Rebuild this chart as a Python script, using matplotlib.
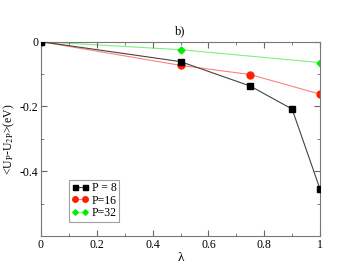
import matplotlib
matplotlib.use("Agg")
import matplotlib.pyplot as plt
from matplotlib.ticker import MultipleLocator

plt.rcParams['font.family'] = ['Liberation Serif', 'DejaVu Serif']
plt.rcParams['mathtext.fontset'] = 'stix'

lam8 = [0.0, 0.5, 0.75, 0.9, 1.0]
u8 = [0.0, -0.0615, -0.137, -0.208, -0.455]
lam16 = [0.0, 0.5, 0.75, 1.0]
u16 = [0.0, -0.073, -0.1015, -0.162]
lam32 = [0.0, 0.5, 1.0]
u32 = [0.0, -0.0246, -0.0646]

fig = plt.figure(figsize=(3.6, 2.78), dpi=100)
ax = fig.add_axes([41/360, 1-236/278, (320-41)/360, (236-41.7)/278])

ax.plot(lam8, u8, '-s', color='#444444', mfc='black', mec='black', lw=0.8, ms=4.5,
        label='P = 8', zorder=3)
ax.plot(lam16, u16, '-o', color='#ff8080', mfc='#ff2000', mec='#ff2000', lw=0.8, ms=5,
        label='P=16', zorder=2)
ax.plot(lam32, u32, '-D', color='#80ee80', mfc='#00ee00', mec='#00ee00', lw=0.8, ms=3.5,
        label='P=32', zorder=1)

ax.set_xlim(0, 1)
ax.set_ylim(-0.6, 0)
ax.xaxis.set_minor_locator(MultipleLocator(0.1))
ax.yaxis.set_minor_locator(MultipleLocator(0.1))
ax.set_xticks([0, 0.2, 0.4, 0.6, 0.8, 1.0])
ax.set_xticklabels(['0', '0.2', '0.4', '0.6', '0.8', '1'])
ax.set_yticks([0, -0.2, -0.4])
ax.set_yticklabels(['0', '-0.2', '-0.4'])
ax.tick_params(which='both', direction='in', top=True, right=True, labelsize=8.5,
               color='#666666', pad=2)
ax.tick_params(which='major', length=4)
ax.tick_params(which='minor', length=2)
for s in ax.spines.values():
    s.set_color('#777777')
    s.set_linewidth(0.8)

ax.set_xlabel('λ', fontsize=9.5, labelpad=1)
ax.set_ylabel('<U$_{\\mathrm{P}}$-U$_{\\mathrm{2P}}$>(eV)', fontsize=8.5, labelpad=2)
ax.set_title('b)', fontsize=9, pad=5)

leg = ax.legend(loc='upper left', bbox_to_anchor=(0.1, 0.29), fontsize=8.5, frameon=True,
                fancybox=False, numpoints=2, handlelength=1.5, handletextpad=0.25,
                borderpad=0.2, labelspacing=0.05, borderaxespad=0, markerscale=0.8)
leg.get_frame().set_edgecolor('#888888')
leg.get_frame().set_linewidth(0.8)

fig.savefig('out.png', dpi=100)
